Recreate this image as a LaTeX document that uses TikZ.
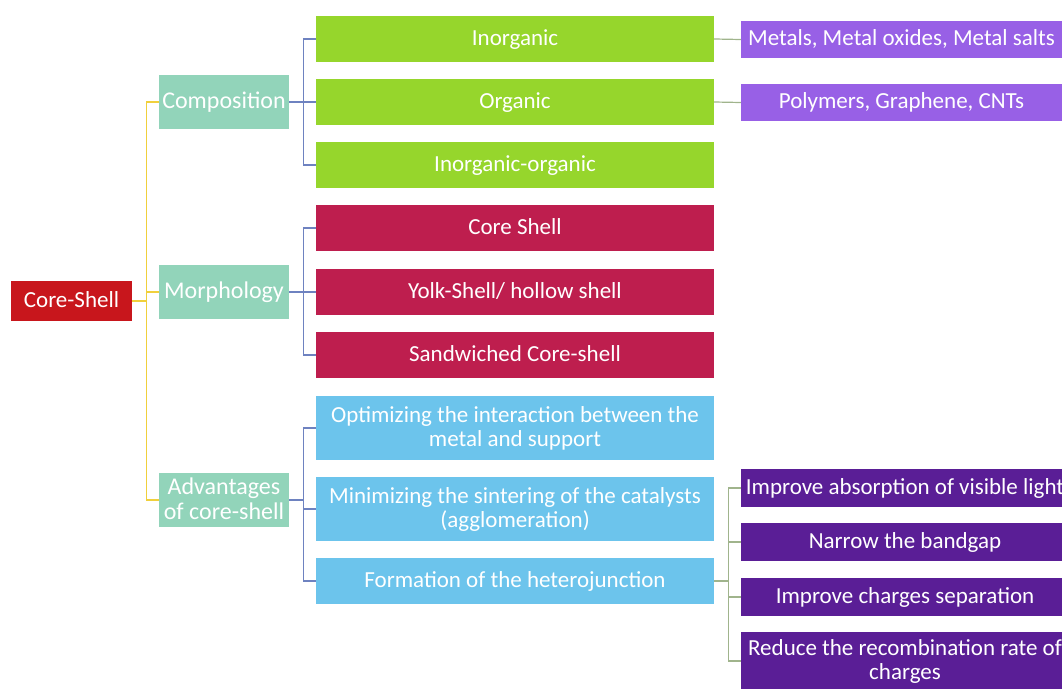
\documentclass[tikz,border=0pt]{standalone}
\usepackage{fontspec}
\setmainfont{Carlito}
\definecolor{rootred}{RGB}{200,22,28}
\definecolor{catteal}{RGB}{146,212,186}
\definecolor{compgreen}{RGB}{150,214,44}
\definecolor{morphred}{RGB}{190,30,78}
\definecolor{advblue}{RGB}{108,196,236}
\definecolor{lightpurple}{RGB}{152,96,230}
\definecolor{darkpurple}{RGB}{90,30,150}
\definecolor{yline}{RGB}{240,208,60}
\definecolor{bline}{RGB}{110,130,192}
\definecolor{gline}{RGB}{160,180,140}
\begin{document}
\begin{tikzpicture}[x=1pt, y=-1pt, font=\fontsize{23}{24.5}\selectfont,
  box/.style={text=white, align=center, inner sep=2pt, text depth=0.3em},
  rootbox/.style={box, fill=rootred, minimum width=121, minimum height=40},
  catbox/.style={box, fill=catteal, minimum width=130, minimum height=54,
    font=\fontsize{24}{25}\selectfont},
  leafbox/.style={box, minimum width=398, minimum height=46},
  sidebox/.style={box, minimum width=328, minimum height=38},
  yconn/.style={yline, line width=1.2pt},
  bconn/.style={bline, line width=1.2pt},
  gconn/.style={gline, line width=1.2pt}]
% canvas = reference image, 1 px = 1 pt, y grows downwards
\useasboundingbox (0,0) rectangle (1062,688);
\clip (0,0) rectangle (1062,688);

% Column x centers
\def\xA{71.5}  % root
\def\xB{224}   % categories
\def\xC{515}   % leaves
\def\xD{905}   % side boxes

% Root and categories
\node[rootbox] (core)  at (\xA,301) {Core-Shell};
\node[catbox]  (comp)  at (\xB,102) {Composition};
\node[catbox]  (morph) at (\xB,292) {Morphology};
\node[catbox]  (adv)   at (\xB,500) {Advantages\\of core-shell};

% Composition
\node[leafbox, fill=compgreen] (inorg)  at (\xC,39)  {Inorganic};
\node[leafbox, fill=compgreen] (org)    at (\xC,102) {Organic};
\node[leafbox, fill=compgreen] (hybrid) at (\xC,165) {Inorganic-organic};

% Morphology
\node[leafbox, fill=morphred] (cs)   at (\xC,228) {Core Shell};
\node[leafbox, fill=morphred] (yolk) at (\xC,292) {Yolk-Shell/ hollow shell};
\node[leafbox, fill=morphred] (sand) at (\xC,355) {Sandwiched Core-shell};

% Advantages
\node[leafbox, fill=advblue, minimum height=64] (optim)  at (\xC,428)
  {Optimizing the interaction between the\\metal and support};
\node[leafbox, fill=advblue, minimum height=64] (sinter) at (\xC,509)
  {Minimizing the sintering of the catalysts\\(agglomeration)};
\node[leafbox, fill=advblue] (hetero) at (\xC,581) {Formation of the heterojunction};

% Examples of composition
\node[sidebox, fill=lightpurple, minimum width=321, minimum height=37] (metals)
  at (901.5,39.5) {Metals, Metal oxides, Metal salts};
\node[sidebox, fill=lightpurple, minimum width=321, minimum height=37] (poly)
  at (901.5,102.5) {Polymers, Graphene, CNTs};

% Heterojunction effects
\node[sidebox, fill=darkpurple] (absorb)  at (\xD,488) {Improve absorption of visible light};
\node[sidebox, fill=darkpurple] (narrow)  at (\xD,542) {Narrow the bandgap};
\node[sidebox, fill=darkpurple] (separ)   at (\xD,597) {Improve charges separation};
\node[sidebox, fill=darkpurple, minimum height=58] (recomb) at (\xD,661)
  {Reduce the recombination rate of\\charges};

% Connectors
\foreach \c in {comp, morph, adv}
  \draw[yconn] (core.east) -- ++(14,0) |- (\c.west);
\foreach \p/\c in {comp/inorg, comp/org, comp/hybrid,
                   morph/cs, morph/yolk, morph/sand,
                   adv/optim, adv/sinter, adv/hetero}
  \draw[bconn] (\p.east) -- ++(14,0) |- (\c.west);
\draw[gconn] (inorg.east) -- (metals.west);
\draw[gconn] (org.east) -- (poly.west);
\foreach \c in {absorb, narrow, separ, recomb}
  \draw[gconn] (hetero.east) -- ++(14,0) |- (\c.west);
\end{tikzpicture}
\end{document}
